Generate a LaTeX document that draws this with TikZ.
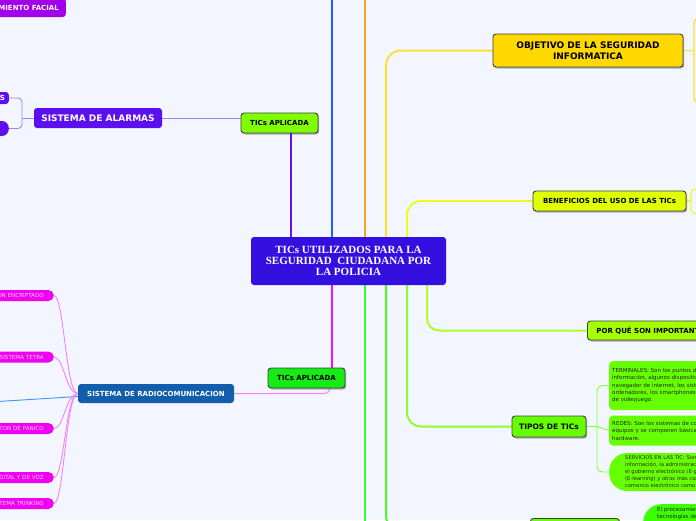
\documentclass[tikz,border=0pt]{standalone}
\usepackage{fontspec}
\setmainfont{DejaVu Sans}
\newfontfamily\titlefont{Liberation Serif}
\usetikzlibrary{shadows,backgrounds}
\definecolor{bgcolour}{RGB}{243,246,254}
\definecolor{centrecolour}{RGB}{52,16,224}
\definecolor{facialcolour}{RGB}{162,0,232}
\definecolor{alarmcolour}{RGB}{92,16,240}
\definecolor{alarmline}{RGB}{160,128,255}
\definecolor{ticgreen}{RGB}{128,255,0}
\definecolor{ticbright}{RGB}{20,236,20}
\definecolor{radiocolour}{RGB}{16,94,172}
\definecolor{pillcolour}{RGB}{240,0,240}
\definecolor{pilltext}{RGB}{255,205,255}
\definecolor{pinkline}{RGB}{246,128,255}
\definecolor{skyline}{RGB}{64,150,235}
\definecolor{objcolour}{RGB}{255,216,0}
\definecolor{bencolour}{RGB}{224,255,0}
\definecolor{porcolour}{RGB}{164,255,0}
\definecolor{tipcolour}{RGB}{102,255,0}
\definecolor{leafgreen}{RGB}{102,255,0}
\definecolor{blobgreen}{RGB}{60,255,0}
\definecolor{purplebranch}{RGB}{100,20,240}
\definecolor{bluebranch}{RGB}{32,90,255}
\definecolor{orangebranch}{RGB}{255,160,32}
\definecolor{yellowbranch}{RGB}{255,224,48}
\definecolor{limebranch}{RGB}{230,255,32}
\definecolor{magentabranch}{RGB}{236,20,236}
\definecolor{greenbranch}{RGB}{48,255,48}
\definecolor{greenbranchb}{RGB}{80,250,30}
\definecolor{greenbranchc}{RGB}{140,255,40}
\definecolor{greenbranchd}{RGB}{176,255,32}
\definecolor{leafline}{RGB}{128,255,64}
\tikzset{
  mapbox/.style={inner sep=0pt, rounded corners=3pt, align=center,
    font=\bfseries\fontsize{7}{8}\selectfont},
  topicbox/.style={mapbox, draw=black!75, line width=0.9pt,
    drop shadow={shadow xshift=1.2pt, shadow yshift=-1.5pt, opacity=0.3, fill=black}},
  pill/.style={inner xsep=10pt, inner ysep=0pt, minimum height=11pt,
    rounded corners=5.5pt, fill=pillcolour, text=pilltext,
    font=\fontsize{5.6}{6}\selectfont, anchor=east},
  leaf/.style={fill=leafgreen, inner xsep=3pt, inner ysep=0pt, rounded corners=4pt,
    align=left, anchor=west, text=black!85, font=\fontsize{5.5}{7.4}\selectfont},
  branch/.style={line width=2.3pt},
  twig/.style={line width=0.9pt},
}

\begin{document}
\begin{tikzpicture}[x=1pt,y=-1pt]
  \useasboundingbox (0,0) rectangle (696,520);
  \clip (0,0) rectangle (696,520);
  % centre and left side
  \node[mapbox, fill=centrecolour, text=white, minimum width=195pt, minimum height=48pt,
    font=\titlefont\bfseries\fontsize{11}{11}\selectfont] (centre) at (348.5,261)
    {TICs UTILIZADOS PARA LA\\SEGURIDAD\ \ CIUDADANA POR\\LA POLICIA};
  \node[topicbox, fill=ticgreen, minimum width=77pt, minimum height=20pt] (ticsup) at (279.5,123) {TICs APLICADA};
  \node[mapbox, fill=alarmcolour, text=white, minimum width=128pt, minimum height=20pt,
    font=\bfseries\fontsize{9}{10}\selectfont] (alarmas) at (98,118) {SISTEMA DE ALARMAS};
  \node[mapbox, fill=alarmcolour, text=white, anchor=east, inner xsep=4pt, minimum height=12pt] (vecinales) at (9,98) {ALARMAS VECINALES};
  \node[mapbox, fill=alarmcolour, anchor=east, minimum width=30pt, minimum height=15pt, rounded corners=7pt] (alarmpill) at (9,128.5) {};
  \node[mapbox, fill=facialcolour, text=white, anchor=east, inner xsep=7pt, minimum height=19pt] (facial) at (66,7.5) {RECONOCIMIENTO FACIAL};
  \node[topicbox, fill=ticbright, minimum width=77pt, minimum height=20pt] (ticsdown) at (306.5,378) {TICs APLICADA};
  \node[mapbox, fill=radiocolour, text=white, minimum width=156pt, minimum height=19pt] (radio) at (156,393.5) {SISTEMA DE RADIOCOMUNICACION};
  \foreach \pname/\py/\ptext in {encrip/295.5/COMUNICACION ENCRIPTADO, tetra/357/SISTEMA TETRA,
      panico/428.5/BOTON DE PANICO, voz/477.5/TRANSMISION DIGITAL Y DE VOZ, trunking/503.5/SISTEMA TRINKING}
    \node[pill] (\pname) at (54,\py) {\ptext};
  % right side
  \node[topicbox, fill=objcolour, minimum width=190pt, minimum height=33pt,
    font=\bfseries\fontsize{9}{11}\selectfont] (objetivo) at (588,50.5) {OBJETIVO DE LA SEGURIDAD\\INFORMATICA};
  \node[topicbox, fill=bencolour, minimum width=153pt, minimum height=20pt] (beneficios) at (609.5,201) {BENEFICIOS DEL USO DE LAS TICs};
  \node[topicbox, fill=porcolour, anchor=west, inner xsep=9pt, minimum height=19pt] (porque) at (587,330.5) {POR QUÉ SON IMPORTANTES LAS TICs};
  \node[topicbox, fill=tipcolour, minimum width=74pt, minimum height=21pt,
    font=\bfseries\fontsize{7.5}{8}\selectfont] (tipos) at (549,426.5) {TIPOS DE TICs};
  \node[leaf, minimum height=49pt, minimum width=120pt] (terminales) at (609,385.5)
    {TERMINALES: Son los puntos de acceso de las personas a la\\información, algunos dispositivos terminales son: el\\navegador de internet, los sistemas operativos para\\ordenadores, los smartphones, televisores, consolas\\de videojuego.};
  \node[leaf, minimum height=30pt, minimum width=120pt] (redes) at (609,430.5)
    {REDES: Son los sistemas de comunicación entre\\equipos y se componen básicamente de software y\\hardware.};
  \node[leaf, minimum height=38pt, minimum width=120pt, rounded corners=18pt, inner xsep=16pt,
    font=\fontsize{5.2}{7}\selectfont] (servicios) at (609,472)
    {SERVICIOS EN LAS TIC: Son los servicios de\\información, la administración electrónica,\\el gobierno electrónico (E-government), la educación\\(E-learning) y otros más como el e-commerce o\\comercio electrónico como el e-banking.};
  \node[leaf, fill=blobgreen, anchor=north west, inner xsep=14pt, inner ysep=3pt, text depth=20pt,
    rounded corners=18pt] (blob) at (643,504) {El procesamiento de datos y las\\tecnologías de la información};
  \node[topicbox, fill=leafgreen, anchor=north west, minimum width=89pt, minimum height=24pt] (lastnode) at (530,518) {};
  % loose ends
  \coordinate (bluetop) at (332,-5);
  \coordinate (orangetop) at (365,-5);
  \coordinate (greenfoot) at (365,530);
  \coordinate (skyend) at (-10,402);
  \coordinate (alarmfork) at (22,118);
  \coordinate (tipfork) at (597,426.5);
  \coordinate (objfork) at (694,50.5);
  \coordinate (objup) at (702,18);
  \coordinate (objdown) at (702,103);
  \coordinate (benfork) at (691,201);
  \coordinate (benup) at (702,189);
  \coordinate (bendown) at (702,214);
  \begin{scope}[on background layer]
    \fill[bgcolour] (0,0) rectangle (696,520);
    % main branches
    \draw[branch, purplebranch] ([xshift=11.5pt]ticsup.south) -- ([xshift=-57.5pt]centre.north);
    \draw[branch, bluebranch] (bluetop) -- ([xshift=-16.5pt]centre.north);
    \draw[branch, orangebranch] (orangetop) -- ([xshift=16.5pt]centre.north);
    \draw[branch, yellowbranch, line width=2pt, rounded corners=15pt] ([xshift=37.5pt]centre.north) |- (objetivo.west);
    \draw[branch, limebranch, line width=2pt, rounded corners=14pt] ([xshift=58.5pt]centre.north) |- (beneficios.west);
    \draw[branch, magentabranch] ([xshift=-16.5pt]centre.south) -- ([xshift=25.5pt]ticsdown.north);
    \draw[branch, greenbranch, line width=2pt] ([xshift=16.5pt]centre.south) -- (greenfoot);
    \draw[branch, greenbranchb, line width=2pt, rounded corners=15pt] ([xshift=37.5pt]centre.south) |- (lastnode.west);
    \draw[branch, greenbranchc, line width=2pt, rounded corners=14pt] ([xshift=58.5pt]centre.south) |- (tipos.west);
    \draw[branch, greenbranchd, line width=2pt, rounded corners=12pt] ([xshift=78.5pt]centre.south) |- (porque.west);
    % left twigs
    \draw[twig, alarmline] (alarmas.east) -- (alarmas.east -| ticsup.west);
    \draw[twig, alarmline] (alarmas.west) -- (alarmfork);
    \draw[twig, alarmline, rounded corners=4pt] (vecinales.east) -| (alarmfork) |- (alarmpill.east);
    \draw[twig, pinkline, line width=1pt, rounded corners=6pt] ([xshift=23.5pt]ticsdown.south) |- (radio.east);
    \draw[twig, skyline] ([yshift=-3pt]radio.west) -- (skyend);
    \foreach \pname in {encrip, tetra, panico, voz, trunking}
      \draw[twig, pinkline] (radio.west) .. controls +(-12,0) and +(10,0) .. (\pname.east);
    % right twigs
    \draw[twig, leafline] (tipos.east) -- (tipfork);
    \draw[twig, leafline, rounded corners=6pt] (tipfork) |- (terminales.west);
    \draw[twig, leafline] (tipfork) -- (redes.west);
    \draw[twig, leafline, rounded corners=6pt] (tipfork) |- (servicios.west);
    \draw[twig, yellowbranch, line width=1.3pt] (objetivo.east) -- (objfork);
    \draw[twig, yellowbranch, line width=1.3pt, rounded corners=5pt] (objup) -| (objfork) |- (objdown);
    \draw[twig, limebranch, line width=1.2pt] (beneficios.east) -- (benfork);
    \draw[twig, limebranch, line width=1.2pt, rounded corners=5pt] (benup) -| (benfork) |- (bendown);
  \end{scope}
\end{tikzpicture}
\end{document}
